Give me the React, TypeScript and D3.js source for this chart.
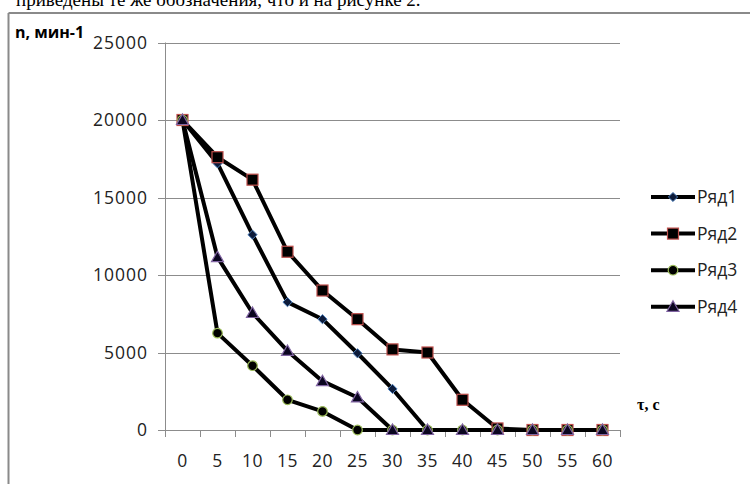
import React from "react";
import * as d3 from "d3";

const categories = ["0", "5", "10", "15", "20", "25", "30", "35", "40", "45", "50", "55", "60"];
const series1 = [20000, 17200, 12600, 8250, 7150, 4950, 2650, 0, 0, 0, 0, 0, 0];
const series2 = [20000, 17600, 16150, 11500, 9000, 7150, 5200, 5000, 1950, 100, 0, 0, 0];
const series3 = [20000, 6250, 4150, 1950, 1200, 0, 0, 0, 0, 0, 0, 0, 0];
const series4 = [20000, 11150, 7550, 5100, 3150, 2100, 0, 0, 0, 0, 0, 0, 0];
const seriesNames = ["Ряд1", "Ряд2", "Ряд3", "Ряд4"];
const yTicks = [0, 5000, 10000, 15000, 20000, 25000];

const FONT = "'Open Sans', sans-serif";

const markerStyles = [
  { shape: "diamond", fill: "#0d1b3a", stroke: "#4f81bd", size: 4.6 },
  { shape: "square", fill: "#000000", stroke: "#c0504d", size: 5.5 },
  { shape: "circle", fill: "#000000", stroke: "#9bbb59", size: 4.8 },
  { shape: "triangle", fill: "#0b0620", stroke: "#8064a2", size: 6 },
];

function Marker({ x, y, i }: { x: number; y: number; i: number }) {
  const m = markerStyles[i];
  const s = m.size;
  if (m.shape === "diamond") {
    return (
      <path
        d={`M${x},${y - s} L${x + s},${y} L${x},${y + s} L${x - s},${y} Z`}
        fill={m.fill}
        stroke={m.stroke}
        strokeWidth={1}
      />
    );
  }
  if (m.shape === "square") {
    return <rect x={x - s} y={y - s} width={2 * s} height={2 * s} fill={m.fill} stroke={m.stroke} strokeWidth={1.2} />;
  }
  if (m.shape === "circle") {
    return <circle cx={x} cy={y} r={s} fill={m.fill} stroke={m.stroke} strokeWidth={1.2} />;
  }
  return (
    <path
      d={`M${x},${y - s} L${x + s},${y + s * 0.75} L${x - s},${y + s * 0.75} Z`}
      fill={m.fill}
      stroke={m.stroke}
      strokeWidth={1.2}
    />
  );
}

export default function App() {
  const W = 750;
  const H = 484;
  const plotLeft = 165;
  const plotRight = 620;
  const plotTop = 42.5;
  const plotBottom = 430;

  const x = d3.scaleBand<string>().domain(categories).range([plotLeft, plotRight]).padding(0);
  const y = d3.scaleLinear().domain([0, 25000]).range([plotBottom, plotTop]);
  const cx = (c: string) => (x(c) as number) + x.bandwidth() / 2;

  const allSeries = [series1, series2, series3, series4];
  const line = d3
    .line<number>()
    .x((_, i) => cx(categories[i]))
    .y((d) => y(d));

  const legendX1 = 651;
  const legendX2 = 695;
  const legendY0 = 197;
  const legendStep = 36.6;

  const boundaries = categories.map((c) => x(c) as number).concat([plotRight]);

  return (
    <svg
      width={W}
      height={H}
      style={{ position: "absolute", left: 0, top: 0, background: "#fff" }}
    >
      <rect x={0} y={0} width={W} height={H} fill="#fff" />
      <text
        x={16}
        y={6}
        fontFamily="'Liberation Serif', serif"
        fontSize={19}
        fill="#000"
      >
        приведены те же обозначения, что и на рисунке 2.
      </text>
      {/* chart border */}
      <line x1={8.5} y1={13} x2={W} y2={13} stroke="#8a8a8a" strokeWidth={2} />
      <line x1={8.5} y1={13} x2={8.5} y2={H} stroke="#8a8a8a" strokeWidth={2} />

      {/* gridlines */}
      {yTicks.map((t) => (
        <line key={"g" + t} x1={plotLeft} x2={plotRight} y1={Math.round(y(t)) + 0.5} y2={Math.round(y(t)) + 0.5} stroke="#8c8c8c" strokeWidth={1} />
      ))}
      {/* y axis */}
      <line x1={plotLeft + 0.5} x2={plotLeft + 0.5} y1={plotTop} y2={plotBottom} stroke="#8c8c8c" strokeWidth={1} />
      {yTicks.map((t) => (
        <g key={"yt" + t}>
          <line x1={plotLeft - 7} x2={plotLeft} y1={Math.round(y(t)) + 0.5} y2={Math.round(y(t)) + 0.5} stroke="#8c8c8c" />
          <text x={148} y={y(t)} dy="0.35em" textAnchor="end" fontFamily={FONT} fontSize={17.5} letterSpacing={1} fill="#222">
            {t}
          </text>
        </g>
      ))}
      {/* x axis */}
      <line x1={plotLeft} x2={plotRight} y1={plotBottom + 0.5} y2={plotBottom + 0.5} stroke="#8c8c8c" strokeWidth={1} />
      {boundaries.map((b, i) => (
        <line key={"xt" + i} x1={Math.round(b) + 0.5} x2={Math.round(b) + 0.5} y1={plotBottom} y2={plotBottom + 7} stroke="#8c8c8c" />
      ))}
      {categories.map((c) => (
        <text key={"xl" + c} x={cx(c)} y={461} dy="0.35em" textAnchor="middle" fontFamily={FONT} fontSize={17.5} letterSpacing={0.5} fill="#222">
          {c}
        </text>
      ))}

      {/* axis titles */}
      <text x={15} y={38} fontFamily={FONT} fontWeight="bold" fontSize={16} fill="#000">
        n, мин-1
      </text>
      <text x={637} y={410} fontFamily="'Liberation Serif', serif" fontWeight="bold" fontSize={16} fill="#000">
        τ, с
      </text>

      {/* series */}
      {allSeries.map((s, si) => (
        <path key={"l" + si} d={line(s) || ""} fill="none" stroke="#000" strokeWidth={4} strokeLinejoin="round" />
      ))}
      {allSeries.map((s, si) => (
        <g key={"m" + si}>
          {s.map((v, i) => (
            <Marker key={i} x={cx(categories[i])} y={y(v)} i={si} />
          ))}
        </g>
      ))}

      {/* legend */}
      {seriesNames.map((n, i) => {
        const ly = legendY0 + i * legendStep;
        return (
          <g key={"lg" + i}>
            <line x1={legendX1} x2={legendX2} y1={ly} y2={ly} stroke="#000" strokeWidth={4} />
            <Marker x={(legendX1 + legendX2) / 2} y={ly} i={i} />
            <text x={697} y={ly} dy="0.35em" fontFamily={FONT} fontSize={17.5} fill="#222">
              {n}
            </text>
          </g>
        );
      })}
    </svg>
  );
}
